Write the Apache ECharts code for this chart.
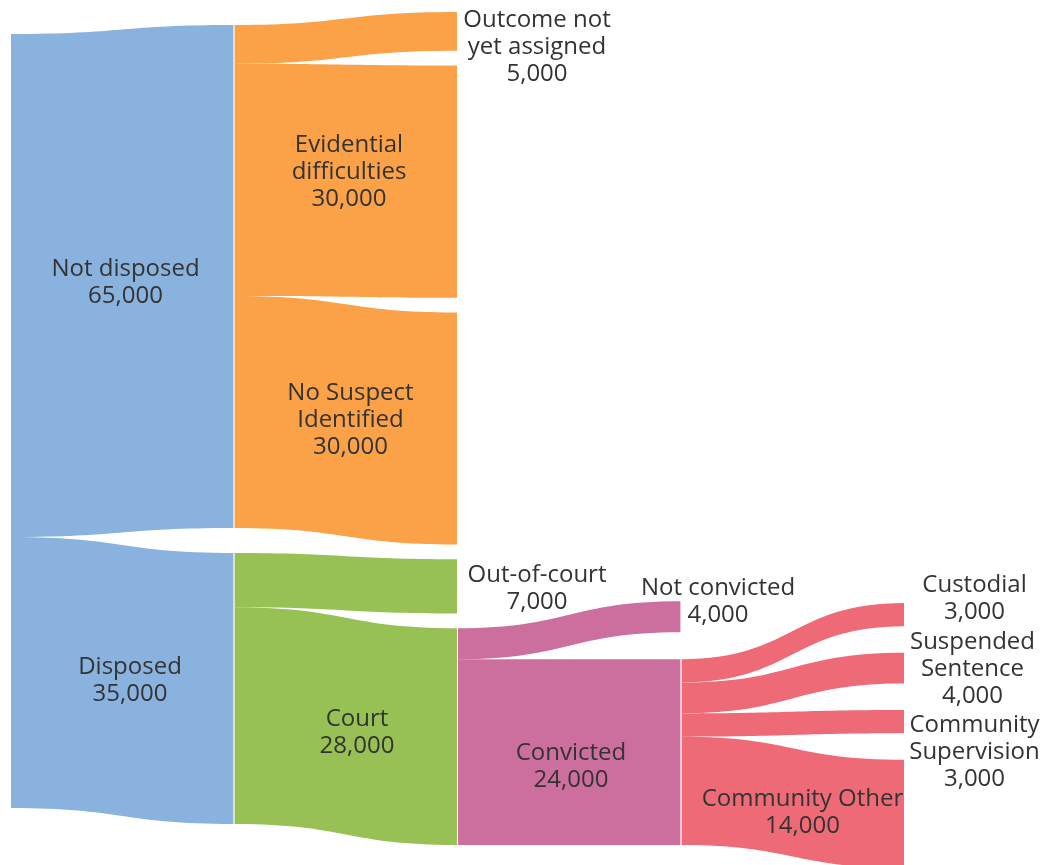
<!DOCTYPE html>
<html>
<head>
<meta charset="utf-8">
<script src="https://cdn.jsdelivr.net/npm/echarts@6/dist/echarts.min.js"></script>
<style>
html, body { margin: 0; padding: 0; background: #fff; }
#main { width: 1046px; height: 865px; }
</style>
</head>
<body>
<div id="main"></div>
<script>
// 节点 / 连线数据
var nodeNames = ['Total', 'Not disposed', 'Disposed',
	'Outcome not yet assigned', 'Evidential difficulties', 'No Suspect Identified',
	'Out-of-court', 'Court', 'Not convicted', 'Convicted',
	'Custodial', 'Suspended Sentence', 'Community Supervision', 'Community Other'];
var nodeTitles = ['', 'Not disposed', 'Disposed',
	'Outcome not\nyet assigned', 'Evidential\ndifficulties', 'No Suspect\nIdentified',
	'Out-of-court', 'Court', 'Not convicted', 'Convicted',
	'Custodial', 'Suspended\nSentence', 'Community\nSupervision', 'Community Other'];
var linkSources = ['Total', 'Total',
	'Not disposed', 'Not disposed', 'Not disposed',
	'Disposed', 'Disposed',
	'Court', 'Court',
	'Convicted', 'Convicted', 'Convicted', 'Convicted'];
var linkTargets = ['Not disposed', 'Disposed',
	'Outcome not yet assigned', 'Evidential difficulties', 'No Suspect Identified',
	'Out-of-court', 'Court',
	'Not convicted', 'Convicted',
	'Custodial', 'Suspended Sentence', 'Community Supervision', 'Community Other'];
var linkValues = [65000, 35000, 5000, 30000, 30000, 7000, 28000, 4000, 24000, 3000, 4000, 3000, 14000];

// 颜色
var colors = {
	'Not disposed': '#89b3de', 'Disposed': '#89b3de',
	'Outcome not yet assigned': '#fba148', 'Evidential difficulties': '#fba148', 'No Suspect Identified': '#fba148',
	'Out-of-court': '#97c055', 'Court': '#97c055',
	'Not convicted': '#cc6f9f', 'Convicted': '#cc6f9f',
	'Custodial': '#ed6a76', 'Suspended Sentence': '#ed6a76', 'Community Supervision': '#ed6a76', 'Community Other': '#ed6a76'
};
// 标签偏移 (相对节点中心)
var labelOffsets = {
	'Not disposed': [-108.5, 6.5], 'Disposed': [-104, -8],
	'Outcome not yet assigned': [79.5, 16], 'Evidential difficulties': [-108.5, -9.5], 'No Suspect Identified': [-107, -8],
	'Out-of-court': [79.5, 2], 'Court': [-100.5, -3.5],
	'Not convicted': [37, -15], 'Convicted': [-110, 15],
	'Custodial': [70, -16], 'Suspended Sentence': [68, 1], 'Community Supervision': [70, 31], 'Community Other': [-102, -1]
};

// 布局参数
var box = { left: 10, right: 141, top: 12, bottom: 20 };
var boxH = 865 - box.top - box.bottom;
var nodeGap = 14.75;
// 每列的对齐方式 (第 3 列用 echarts 自带的堆叠)
var columnLayout = [
	{ align: 'center', gap: 0, shift: -7.5 },
	{ align: 'center', gap: 25, shift: -4 },
	null,
	{ align: 'bottom', gap: 27, shift: 0 },
	{ align: 'bottom', gap: 26.4, shift: 23 }
];

// 节点值、列号
var nodeValue = {}, nodeDepth = { 'Total': 0 };
linkValues.forEach(function (v, i) {
	nodeValue[linkTargets[i]] = (nodeValue[linkTargets[i]] || 0) + v;
});
nodeValue['Total'] = linkValues[0] + linkValues[1];
linkSources.forEach(function (s, i) {
	nodeDepth[linkTargets[i]] = nodeDepth[s] + 1;
});
var columns = [];
nodeNames.forEach(function (name) {
	var d = nodeDepth[name];
	(columns[d] = columns[d] || []).push(name);
});
// 与 echarts 相同的比例计算
var ky = Infinity;
columns.forEach(function (col) {
	var sum = 0;
	col.forEach(function (n) { sum += nodeValue[n]; });
	ky = Math.min(ky, (boxH - (col.length - 1) * nodeGap) / sum);
});
var localY = {};
columns.forEach(function (col, d) {
	var cfg = columnLayout[d];
	if (!cfg) return;
	var total = (col.length - 1) * cfg.gap;
	col.forEach(function (n) { total += nodeValue[n] * ky; });
	var y = (cfg.align === 'center' ? (boxH - total) / 2 : boxH - total) + (cfg.shift || 0);
	col.forEach(function (n) {
		localY[n] = y / boxH;
		y += nodeValue[n] * ky + cfg.gap;
	});
});

var myChart = echarts.init(document.getElementById('main'));

var nodes = nodeNames.map(function (name, i) {
	var item = {
		name: name,
		itemStyle: { color: name === 'Total' ? 'rgba(0,0,0,0)' : 'rgba(255,255,255,0.45)' },
		label: {
			show: name !== 'Total',
			position: 'inside',
			offset: labelOffsets[name] || [0, 0],
			formatter: function (p) {
				return nodeTitles[i] + '\n' + p.value.toLocaleString('en-US');
			}
		}
	};
	if (localY[name] != null) item.localY = localY[name];
	return item;
});
var links = linkValues.map(function (v, i) {
	return {
		source: linkSources[i],
		target: linkTargets[i],
		value: v,
		lineStyle: { color: colors[linkTargets[i]] }
	};
});

var option = {
	animation: false,
	series: [{
		type: 'sankey',
		left: box.left,
		right: box.right,
		top: box.top,
		bottom: box.bottom,
		nodeWidth: 1,
		nodeGap: nodeGap,
		nodeAlign: 'left',
		layoutIterations: 0,
		draggable: false,
		emphasis: { disabled: true },
		data: nodes,
		links: links,
		label: {
			color: '#333',
			fontFamily: 'Open Sans',
			fontSize: 24,
			lineHeight: 27,
			align: 'center',
			verticalAlign: 'middle'
		},
		itemStyle: { borderWidth: 0 },
		lineStyle: {
			opacity: 1,
			curveness: 0.5
		}
	}]
};

myChart.setOption(option);
window.onresize = myChart.resize;
</script>
</body>
</html>
